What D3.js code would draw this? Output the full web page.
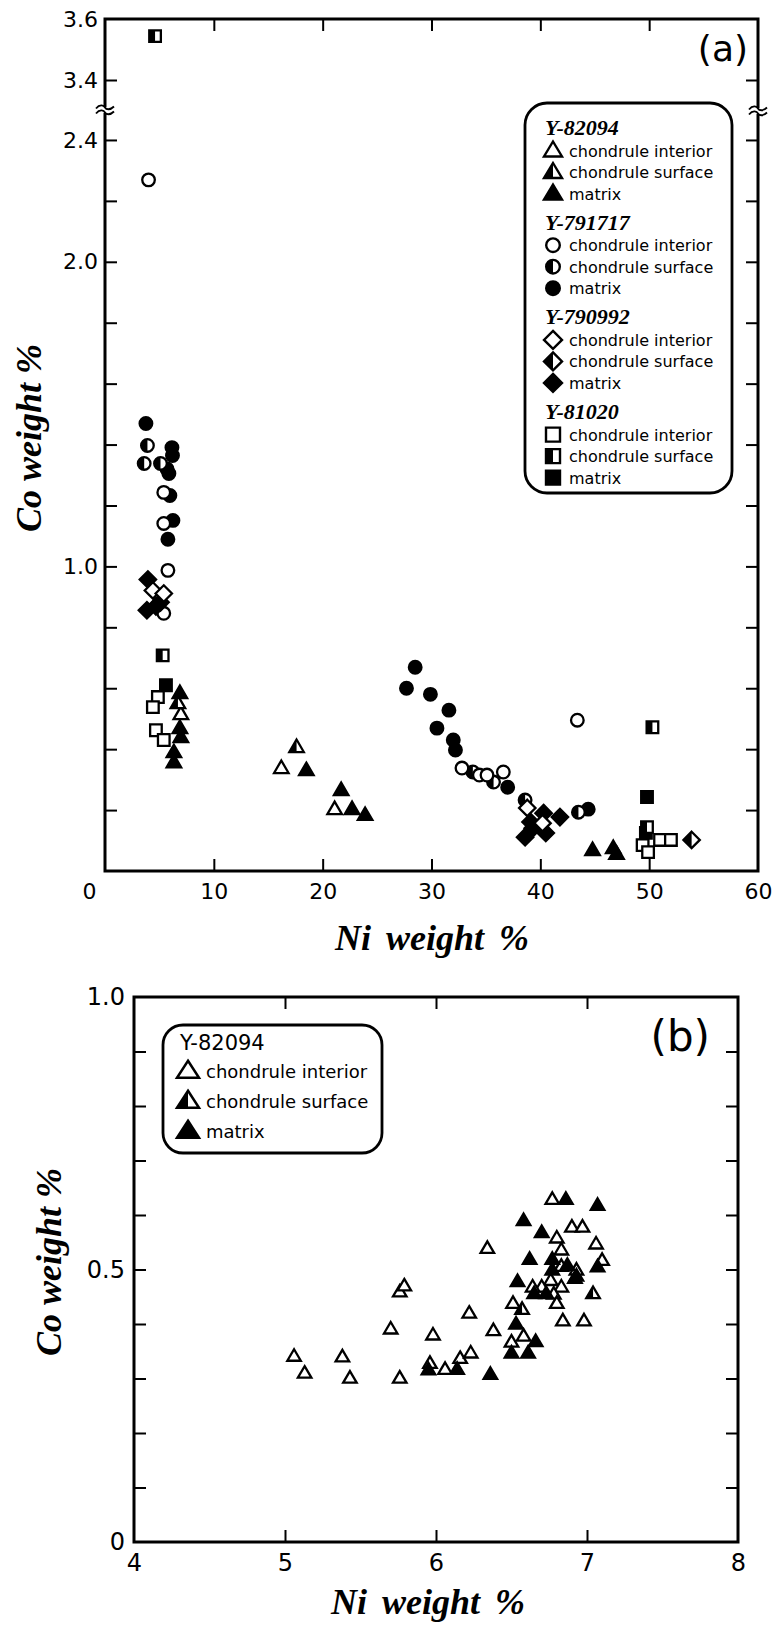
<!DOCTYPE html>
<html lang="en">
<head>
<meta charset="UTF-8">
<title>Co vs Ni</title>
<style>
  body { margin: 0; background: #fff; }
  text { fill: #000; }
</style>
</head>
<body>
<script src="https://d3js.org/d3.v7.min.js"></script>
<script>
  const width = 773, height = 1630;

  // ---- panel (a) data: [Ni wt%, Co wt%] ----
  const a82094Interior = [[6.97, 0.515], [16.2, 0.338], [21.1, 0.203]];
  const a82094Surface = [[6.7, 0.551], [17.6, 0.407]];
  const a82094Matrix = [[6.88, 0.584], [6.88, 0.469], [6.97, 0.44], [6.33, 0.39], [6.33, 0.357],
    [18.5, 0.331], [21.7, 0.266], [22.7, 0.203], [23.9, 0.184], [44.8, 0.069], [46.7, 0.075], [47.0, 0.056]];

  const a791717Interior = [[4.0, 2.269], [5.4, 1.243], [5.4, 1.141], [5.78, 0.987], [5.4, 0.846],
    [32.8, 0.338], [34.4, 0.315], [35.1, 0.315], [36.6, 0.325], [43.4, 0.495]];
  const a791717Surface = [[3.9, 1.397], [3.6, 1.338], [5.1, 1.338], [33.8, 0.325], [35.7, 0.292],
    [38.6, 0.233], [43.5, 0.193]];
  const a791717Matrix = [[3.76, 1.469], [6.15, 1.39], [6.2, 1.364], [5.87, 1.305], [5.7, 1.32],
    [5.96, 1.233], [6.24, 1.151], [5.78, 1.089], [28.5, 0.669], [27.7, 0.6], [29.9, 0.58],
    [31.6, 0.528], [30.5, 0.469], [32.0, 0.43], [32.2, 0.397], [37.0, 0.275], [44.4, 0.203]];

  const a790992Interior = [[4.4, 0.921], [5.4, 0.911], [38.8, 0.207], [40.2, 0.157]];
  const a790992Surface = [[53.9, 0.102]];
  const a790992Matrix = [[3.94, 0.957], [3.85, 0.856], [4.68, 0.869], [5.1, 0.882], [40.3, 0.19],
    [41.8, 0.177], [39.1, 0.161], [38.6, 0.111], [40.5, 0.125], [39.3, 0.14]];

  const a81020Interior = [[4.86, 0.571], [4.4, 0.538], [4.68, 0.462], [5.4, 0.43], [51.0, 0.102],
    [52.0, 0.102], [49.4, 0.085], [49.9, 0.062]];
  const a81020Surface = [[4.6, 3.544], [5.3, 0.708], [50.3, 0.472], [49.8, 0.144]];
  const a81020Matrix = [[5.6, 0.61], [49.8, 0.243], [49.7, 0.125]];

  // ---- panel (b) data: Y-82094 only ----
  const b82094Interior = [[5.06, 0.341], [5.13, 0.31], [5.38, 0.34], [5.43, 0.301], [5.7, 0.391],
    [5.76, 0.459], [5.79, 0.47], [5.76, 0.301], [5.98, 0.38], [6.22, 0.42], [6.34, 0.539],
    [5.96, 0.328], [6.06, 0.317], [6.16, 0.337], [6.23, 0.347], [6.38, 0.388], [6.5, 0.367],
    [6.58, 0.378], [6.51, 0.438], [6.77, 0.629], [6.9, 0.578], [6.97, 0.578], [6.8, 0.558],
    [7.06, 0.547], [6.83, 0.536], [7.1, 0.517], [6.83, 0.506], [6.93, 0.499], [6.76, 0.48],
    [6.7, 0.468], [6.83, 0.468], [6.78, 0.455], [6.8, 0.438], [6.84, 0.406], [6.98, 0.406],
    [6.64, 0.468]];
  const b82094Surface = [[6.57, 0.427], [7.04, 0.456]];
  const b82094Matrix = [[6.86, 0.629], [7.07, 0.618], [6.58, 0.59], [6.7, 0.568], [6.62, 0.519],
    [6.77, 0.519], [7.07, 0.505], [6.87, 0.508], [6.92, 0.484], [6.93, 0.488], [6.77, 0.499],
    [6.54, 0.478], [6.65, 0.456], [6.73, 0.456], [6.53, 0.4], [6.66, 0.368], [6.5, 0.347],
    [6.61, 0.347], [5.95, 0.316], [6.14, 0.317], [6.36, 0.308]];

  // tick values
  const aXTicks = [0, 10, 20, 30, 40, 50, 60];
  const aYLowTicks = [0.2, 0.4, 0.6, 0.8, 1.0, 1.2, 1.4, 1.6, 1.8, 2.0, 2.2, 2.4];
  const aYLowLabels = [1.0, 2.0, 2.4];
  const aYHighTicks = [3.4, 3.6];
  const bXTicks = [4, 5, 6, 7, 8];
  const bYTicks = [0, 0.1, 0.2, 0.3, 0.4, 0.5, 0.6, 0.7, 0.8, 0.9, 1.0];
  const bYLabels = [0, 0.5, 1.0];

  const sampleNames = ["Y-82094", "Y-791717", "Y-790992", "Y-81020"];
  const kinds = ["chondrule interior", "chondrule surface", "matrix"];

  const svg = d3.select("body").append("svg").attr("width", width).attr("height", height);

  // marker paths
  function shapePath(type, s) {
    if (type === "circle") return `M${-s.r},0A${s.r},${s.r} 0 1,1 ${s.r},0A${s.r},${s.r} 0 1,1 ${-s.r},0Z`;
    if (type === "square") return `M${-s.h},${-s.h}H${s.h}V${s.h}H${-s.h}Z`;
    if (type === "diamond") return `M0,${-s.d}L${s.d},0L0,${s.d}L${-s.d},0Z`;
    return `M0,${-s.th * 0.6}L${s.b / 2},${s.th * 0.4}L${-s.b / 2},${s.th * 0.4}Z`;
  }
  function halfPath(type, s) {
    if (type === "circle") return `M0,${-s.r}A${s.r},${s.r} 0 0,0 0,${s.r}Z`;
    if (type === "square") return `M${-s.h},${-s.h}H0V${s.h}H${-s.h}Z`;
    if (type === "diamond") return `M0,${-s.d}L${-s.d},0L0,${s.d}Z`;
    return `M0,${-s.th * 0.6}L${-s.b / 2},${s.th * 0.4}L0,${s.th * 0.4}Z`;
  }
  function marker(g, type, kind, s) {
    g.append("path").attr("d", shapePath(type, s))
      .attr("fill", kind === 2 ? "#000" : "#fff")
      .attr("stroke", "#000").attr("stroke-width", s.sw || 2.2).attr("stroke-linejoin", "miter");
    if (kind === 1) g.append("path").attr("d", halfPath(type, s)).attr("fill", "#000");
  }
  function plotSeries(data, type, kind, s, xs, yf) {
    data.forEach(d => {
      const g = svg.append("g").attr("transform", `translate(${xs(d[0])},${yf(d[1])})`);
      marker(g, type, kind, s);
    });
  }
  function styleAxis(g, fontSize) {
    g.select(".domain").remove();
    g.selectAll(".tick line").attr("stroke", "#000").attr("stroke-width", 2);
    g.selectAll(".tick text").attr("font-family", "DejaVu Sans").attr("font-size", fontSize).attr("fill", "#000");
  }
  function axisBreak(x, y) {
    svg.append("rect").attr("x", x - 4).attr("y", y - 3).attr("width", 8).attr("height", 6).attr("fill", "#fff");
    [-2.5, 2.5].forEach(o => {
      svg.append("path")
        .attr("d", `M${x - 9},${y + o + 1}C${x - 5},${y + o - 4} ${x - 1},${y + o - 2} ${x},${y + o}S${x + 5},${y + o + 3} ${x + 9},${y + o - 1}`)
        .attr("fill", "none").attr("stroke", "#000").attr("stroke-width", 1.8);
    });
  }

  // ================= panel (a) =================
  const xA = d3.scaleLinear().domain([0, 60]).range([105, 758]);
  const yALow = d3.scaleLinear().domain([0, 2.5]).range([871, 109.5]);
  const yAHigh = d3.scaleLinear().domain([3.3, 3.6]).range([110.5, 19]);
  const yA = v => v > 3 ? yAHigh(v) : yALow(v);

  svg.append("rect").attr("x", xA(0)).attr("y", yAHigh(3.6))
    .attr("width", xA(60) - xA(0)).attr("height", yALow(0) - yAHigh(3.6))
    .attr("fill", "none").attr("stroke", "#000").attr("stroke-width", 3);

  const axBottom = svg.append("g").attr("transform", `translate(0,${yALow(0)})`)
    .call(d3.axisBottom(xA).tickValues(aXTicks).tickSizeInner(-12).tickSizeOuter(0).tickPadding(12).tickFormat(d3.format("d")));
  styleAxis(axBottom, 22);
  axBottom.selectAll(".tick text").filter(d => d === 0).attr("dx", -16);
  axBottom.selectAll(".tick line").filter(d => d === 0 || d === 60).remove();

  const axTop = svg.append("g").attr("transform", `translate(0,${yAHigh(3.6)})`)
    .call(d3.axisTop(xA).tickValues(aXTicks.slice(1, -1)).tickSizeInner(-12).tickSizeOuter(0).tickFormat(""));
  styleAxis(axTop, 22);

  const axLeftLow = svg.append("g").attr("transform", `translate(${xA(0)},0)`)
    .call(d3.axisLeft(yALow).tickValues(aYLowTicks).tickSizeInner(-12).tickSizeOuter(0).tickPadding(7)
      .tickFormat(d => aYLowLabels.some(v => Math.abs(v - d) < 1e-9) ? d.toFixed(1) : ""));
  styleAxis(axLeftLow, 22);
  const axLeftHigh = svg.append("g").attr("transform", `translate(${xA(0)},0)`)
    .call(d3.axisLeft(yAHigh).tickValues(aYHighTicks).tickSizeInner(-12).tickSizeOuter(0).tickPadding(7).tickFormat(d3.format(".1f")));
  styleAxis(axLeftHigh, 22);
  axLeftHigh.selectAll(".tick line").filter(d => d === 3.6).remove();

  const axRightLow = svg.append("g").attr("transform", `translate(${xA(60)},0)`)
    .call(d3.axisRight(yALow).tickValues(aYLowTicks).tickSizeInner(-12).tickSizeOuter(0).tickFormat(""));
  styleAxis(axRightLow, 22);
  const axRightHigh = svg.append("g").attr("transform", `translate(${xA(60)},0)`)
    .call(d3.axisRight(yAHigh).tickValues([3.4]).tickSizeInner(-12).tickSizeOuter(0).tickFormat(""));
  styleAxis(axRightHigh, 22);

  axisBreak(xA(0), 110);
  axisBreak(xA(60), 111);

  // axis titles
  svg.append("text").attr("x", 432).attr("y", 950).attr("text-anchor", "middle")
    .attr("font-family", "Liberation Serif").attr("font-weight", "bold").attr("font-style", "italic")
    .attr("font-size", 36).attr("word-spacing", 6).text("Ni weight %");
  svg.append("text").attr("transform", "translate(41,438) rotate(-90)").attr("text-anchor", "middle")
    .attr("font-family", "Liberation Serif").attr("font-weight", "bold").attr("font-style", "italic")
    .attr("font-size", 36).text("Co weight %");

  svg.append("text").attr("x", 748).attr("y", 61).attr("text-anchor", "end")
    .attr("font-family", "DejaVu Sans").attr("font-size", 36).text("(a)");

  // legend (a)
  const sizeLegA = { r: 6.8, h: 7, d: 9, b: 18, th: 15, sw: 2.4 };
  const shapes = ["triangle", "circle", "diamond", "square"];
  const legA = svg.append("g");
  legA.append("rect").attr("x", 525).attr("y", 103).attr("width", 207).attr("height", 390)
    .attr("rx", 22).attr("fill", "#fff").attr("stroke", "#000").attr("stroke-width", 2.8);
  sampleNames.forEach((name, gi) => {
    const y0 = 135 + gi * 94.7;
    legA.append("text").attr("x", 545).attr("y", y0)
      .attr("font-family", "Liberation Serif").attr("font-weight", "bold").attr("font-style", "italic")
      .attr("font-size", 22).text(name);
    kinds.forEach((k, ki) => {
      const yy = y0 + 21.5 * (ki + 1);
      const g = legA.append("g").attr("transform", `translate(553,${yy - 6})`);
      marker(g, shapes[gi], ki, sizeLegA);
      legA.append("text").attr("x", 569).attr("y", yy)
        .attr("font-family", "DejaVu Sans").attr("font-size", 16).text(k);
    });
  });

  // points (a)
  const sizeA = { r: 6.3, h: 5.8, d: 8.2, b: 14.5, th: 12.5, sw: 2.3 };
  plotSeries(a82094Interior, "triangle", 0, sizeA, xA, yA);
  plotSeries(a82094Surface, "triangle", 1, sizeA, xA, yA);
  plotSeries(a82094Matrix, "triangle", 2, sizeA, xA, yA);
  plotSeries(a791717Matrix, "circle", 2, sizeA, xA, yA);
  plotSeries(a791717Surface, "circle", 1, sizeA, xA, yA);
  plotSeries(a791717Interior, "circle", 0, sizeA, xA, yA);
  plotSeries(a790992Matrix, "diamond", 2, sizeA, xA, yA);
  plotSeries(a790992Interior, "diamond", 0, sizeA, xA, yA);
  plotSeries(a790992Surface, "diamond", 1, sizeA, xA, yA);
  plotSeries(a81020Matrix, "square", 2, sizeA, xA, yA);
  plotSeries(a81020Surface, "square", 1, sizeA, xA, yA);
  plotSeries(a81020Interior, "square", 0, sizeA, xA, yA);

  // ================= panel (b) =================
  const xB = d3.scaleLinear().domain([4, 8]).range([134, 738]);
  const yB = d3.scaleLinear().domain([0, 1]).range([1542, 997]);

  svg.append("rect").attr("x", xB(4)).attr("y", yB(1))
    .attr("width", xB(8) - xB(4)).attr("height", yB(0) - yB(1))
    .attr("fill", "none").attr("stroke", "#000").attr("stroke-width", 3);

  const bBottom = svg.append("g").attr("transform", `translate(0,${yB(0)})`)
    .call(d3.axisBottom(xB).tickValues(bXTicks).tickSizeInner(-12).tickSizeOuter(0).tickPadding(12).tickFormat(d3.format("d")));
  styleAxis(bBottom, 24);
  bBottom.selectAll(".tick line").filter(d => d === 4 || d === 8).remove();
  const bTop = svg.append("g").attr("transform", `translate(0,${yB(1)})`)
    .call(d3.axisTop(xB).tickValues(bXTicks.slice(1, -1)).tickSizeInner(-12).tickSizeOuter(0).tickFormat(""));
  styleAxis(bTop, 24);
  const bLeft = svg.append("g").attr("transform", `translate(${xB(4)},0)`)
    .call(d3.axisLeft(yB).tickValues(bYTicks).tickSizeInner(-12).tickSizeOuter(0).tickPadding(9)
      .tickFormat(d => !bYLabels.some(v => Math.abs(v - d) < 1e-9) ? "" : (d === 0 ? "0" : d.toFixed(1))));
  styleAxis(bLeft, 24);
  bLeft.selectAll(".tick line").filter(d => d === 0 || d === 1).remove();
  const bRight = svg.append("g").attr("transform", `translate(${xB(8)},0)`)
    .call(d3.axisRight(yB).tickValues(bYTicks.slice(1, -1)).tickSizeInner(-12).tickSizeOuter(0).tickFormat(""));
  styleAxis(bRight, 24);

  svg.append("text").attr("x", 428).attr("y", 1614).attr("text-anchor", "middle")
    .attr("font-family", "Liberation Serif").attr("font-weight", "bold").attr("font-style", "italic")
    .attr("font-size", 36).attr("word-spacing", 6).text("Ni weight %");
  svg.append("text").attr("transform", "translate(61,1262) rotate(-90)").attr("text-anchor", "middle")
    .attr("font-family", "Liberation Serif").attr("font-weight", "bold").attr("font-style", "italic")
    .attr("font-size", 36).text("Co weight %");

  svg.append("text").attr("x", 710).attr("y", 1051).attr("text-anchor", "end")
    .attr("font-family", "DejaVu Sans").attr("font-size", 42).text("(b)");

  // legend (b)
  const sizeLegB = { b: 22, th: 17, sw: 2.5 };
  const legB = svg.append("g");
  legB.append("rect").attr("x", 163).attr("y", 1025).attr("width", 219).attr("height", 128)
    .attr("rx", 20).attr("fill", "#fff").attr("stroke", "#000").attr("stroke-width", 2.8);
  legB.append("text").attr("x", 180).attr("y", 1050)
    .attr("font-family", "DejaVu Sans").attr("font-size", 21).text(sampleNames[0]);
  kinds.forEach((k, ki) => {
    const yy = 1078 + ki * 30;
    const g = legB.append("g").attr("transform", `translate(188,${yy - 7})`);
    marker(g, "triangle", ki, sizeLegB);
    legB.append("text").attr("x", 206).attr("y", yy)
      .attr("font-family", "DejaVu Sans").attr("font-size", 18).text(k);
  });

  // points (b)
  const sizeB = { b: 13.5, th: 11.5, sw: 2.3 };
  plotSeries(b82094Interior, "triangle", 0, sizeB, xB, yB);
  plotSeries(b82094Matrix, "triangle", 2, sizeB, xB, yB);
  plotSeries(b82094Surface, "triangle", 1, sizeB, xB, yB);
</script>
</body>
</html>
